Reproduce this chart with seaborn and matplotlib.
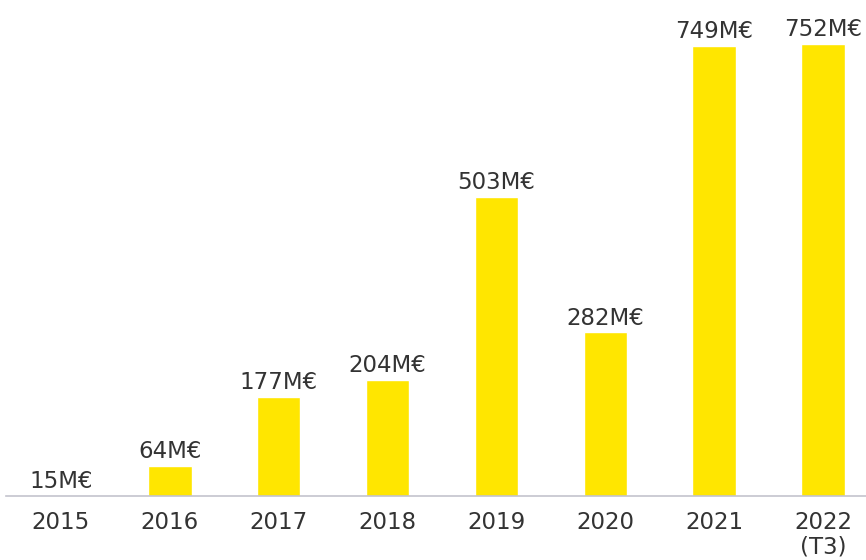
import matplotlib
matplotlib.use("Agg")
import matplotlib.pyplot as plt
import seaborn as sns
import pandas as pd

years = ["2015", "2016", "2017", "2018", "2019", "2020", "2021", "2022\n(T3)"]
values = [15, 64, 177, 204, 503, 282, 749, 752]
labels = [f"{v}M€" for v in values]

sns.set_theme(style="white")
plt.rcParams['font.family'] = ['DejaVu Sans']

text_color = "#333333"
bar_color = "#FFE600"

df = pd.DataFrame({"year": years, "value": values})

fig = plt.figure(figsize=(8.66, 5.6), dpi=100)
ax = fig.add_axes([6/866, (560-496)/560, 860/866, 496/560])
sns.barplot(data=df, x="year", y="value", color=bar_color, saturation=1,
            width=0.4, ax=ax)

ax.set_ylim(15, 824)
ax.set_xlim(-0.505, 7.395)
for s in ["top", "right", "left"]:
    ax.spines[s].set_visible(False)
ax.spines["bottom"].set_color("#c4c4cd")
ax.spines["bottom"].set_linewidth(1.2)
ax.set_yticks([])
ax.set_xlabel("")
ax.set_ylabel("")
ax.tick_params(axis="x", length=0, pad=10.5, labelsize=16.5, labelcolor=text_color)
for t in ax.get_xticklabels():
    t.set_linespacing(1.1)

ax.bar_label(ax.containers[0], labels=labels, padding=2, fontsize=16.5,
             color=text_color, clip_on=False)

fig.savefig("out.png", dpi=100)
